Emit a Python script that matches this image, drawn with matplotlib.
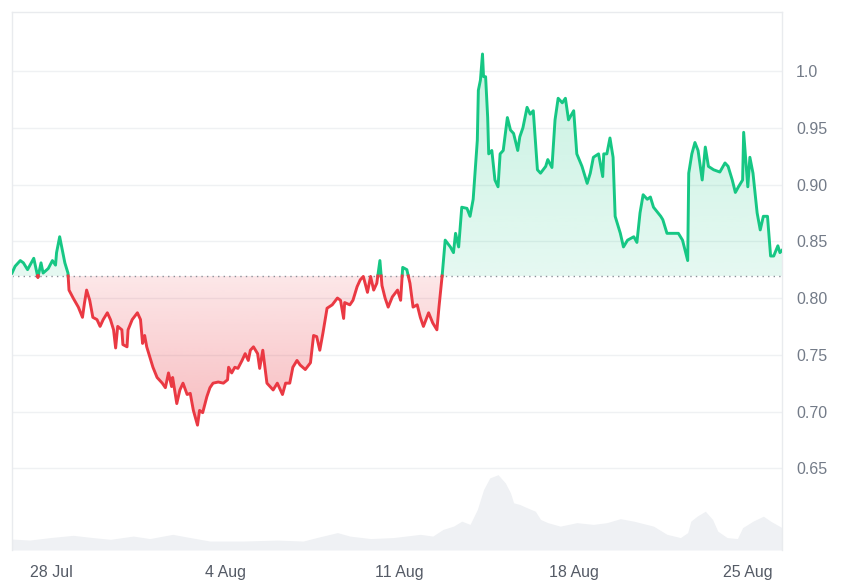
import numpy as np
import matplotlib
matplotlib.use('Agg')
import matplotlib.pyplot as plt
import matplotlib.dates as mdates
from matplotlib.path import Path
from matplotlib.patches import PathPatch
from matplotlib.colors import to_rgb
from datetime import datetime, timedelta

plt.rcParams['font.family'] = ['Liberation Sans', 'DejaVu Sans']

start = datetime(2024, 7, 26, 10)
base_price = 0.8194

# hours since start / price in USD
price_hours = [0, 3, 8, 11, 15, 21, 25, 28, 30, 35, 39, 42, 43, 46, 49, 51, 54, 55, 59, 64,
               68, 70, 72, 75, 78, 82, 85, 88, 92, 95, 98, 100, 102, 106, 107, 111, 112, 116, 121, 124,
               126, 128, 130, 133, 136, 140, 145, 148, 151, 154, 155, 159, 162, 165, 169, 172, 175, 179, 181, 184,
               188, 191, 194, 199, 204, 208, 209, 212, 215, 218, 222, 225, 228, 230, 233, 237, 239, 242, 246, 249,
               252, 256, 261, 264, 268, 271, 275, 278, 283, 288, 291, 294, 297, 300, 304, 309, 314, 317, 320, 321,
               326, 329, 333, 336, 339, 343, 346, 349, 352, 355, 357, 360, 363, 367, 372, 375, 377, 381, 384, 387,
               391, 394, 397, 402, 406, 410, 412, 415, 418, 423, 426, 428, 431, 434, 439, 442, 445, 449, 450, 452,
               454, 455, 457, 459, 460, 463, 466, 469, 471, 474, 478, 481, 484, 488, 490, 493, 497, 500, 503, 507,
               510, 515, 517, 521, 524, 527, 531, 534, 537, 542, 545, 550, 555, 558, 561, 566, 570, 571, 574, 577,
               580, 582, 587, 590, 594, 600, 603, 606, 609, 613, 616, 619, 626, 628, 632, 638, 643, 647, 650, 652,
               653, 656, 659, 662, 666, 669, 672, 677, 683, 688, 691, 695, 698, 701, 705, 706, 708, 710, 712, 715,
               719, 722, 725, 729, 732, 735, 739, 741, 743]
price = [0.822, 0.828, 0.833, 0.831, 0.825, 0.835, 0.818, 0.831, 0.822, 0.826, 0.833, 0.829, 0.840, 0.854, 0.840, 0.831, 0.822, 0.807, 0.800, 0.792,
         0.783, 0.796, 0.807, 0.798, 0.783, 0.781, 0.775, 0.781, 0.787, 0.781, 0.772, 0.756, 0.775, 0.772, 0.759, 0.757, 0.772, 0.781, 0.787, 0.781,
         0.760, 0.767, 0.757, 0.748, 0.739, 0.730, 0.725, 0.721, 0.734, 0.722, 0.730, 0.707, 0.719, 0.725, 0.715, 0.716, 0.701, 0.688, 0.701, 0.699,
         0.713, 0.721, 0.725, 0.726, 0.725, 0.728, 0.739, 0.734, 0.739, 0.738, 0.745, 0.751, 0.745, 0.754, 0.757, 0.751, 0.738, 0.754, 0.725, 0.722,
         0.719, 0.725, 0.715, 0.725, 0.725, 0.739, 0.745, 0.741, 0.737, 0.743, 0.767, 0.766, 0.754, 0.769, 0.791, 0.794, 0.800, 0.798, 0.782, 0.796,
         0.794, 0.798, 0.810, 0.816, 0.819, 0.805, 0.819, 0.807, 0.813, 0.833, 0.811, 0.800, 0.792, 0.801, 0.807, 0.798, 0.827, 0.825, 0.813, 0.792,
         0.794, 0.783, 0.775, 0.787, 0.778, 0.772, 0.792, 0.819, 0.851, 0.845, 0.840, 0.857, 0.845, 0.880, 0.879, 0.872, 0.887, 0.939, 0.983, 0.992,
         1.015, 0.995, 0.995, 0.959, 0.927, 0.930, 0.904, 0.898, 0.927, 0.930, 0.959, 0.948, 0.945, 0.930, 0.942, 0.950, 0.968, 0.962, 0.965, 0.913,
         0.910, 0.916, 0.922, 0.915, 0.957, 0.976, 0.972, 0.976, 0.957, 0.965, 0.927, 0.916, 0.901, 0.910, 0.924, 0.927, 0.907, 0.927, 0.927, 0.941,
         0.924, 0.872, 0.857, 0.845, 0.851, 0.854, 0.849, 0.875, 0.891, 0.887, 0.889, 0.880, 0.872, 0.869, 0.857, 0.857, 0.857, 0.851, 0.840, 0.833,
         0.910, 0.927, 0.937, 0.930, 0.904, 0.933, 0.916, 0.913, 0.911, 0.919, 0.916, 0.904, 0.893, 0.898, 0.904, 0.946, 0.922, 0.898, 0.924, 0.910,
         0.875, 0.860, 0.872, 0.872, 0.837, 0.837, 0.846, 0.840, 0.842]

# hours since start / 24h volume, million USD
vol_hours = [0, 17, 37, 59, 78, 95, 117, 133, 155, 172, 191, 223, 256, 281, 294, 314, 326, 346, 368, 394,
             406, 416, 426, 434, 442, 449, 455, 461, 469, 476, 481, 484, 490, 497, 505, 510, 517, 529, 545, 561,
             574, 587, 600, 619, 632, 645, 652, 655, 661, 669, 676, 681, 690, 700, 705, 715, 725, 732, 743]
volume = [44, 40, 50, 59, 50, 43, 56, 46, 63, 50, 36, 36, 40, 36, 50, 70, 56, 46, 50, 63,
          56, 83, 96, 116, 103, 163, 243, 290, 303, 270, 230, 190, 183, 170, 156, 123, 110, 96, 110, 103,
          110, 126, 116, 96, 63, 50, 70, 116, 136, 156, 123, 76, 50, 46, 90, 116, 136, 116, 90]

tick_days = ['2024-07-28', '2024-08-04', '2024-08-11', '2024-08-18', '2024-08-25']
ytick_vals = [0.65, 0.70, 0.75, 0.80, 0.85, 0.90, 0.95, 1.0]

GREEN = '#16c784'
RED = '#ea3943'

t = mdates.date2num([start + timedelta(hours=h) for h in price_hours])
p = np.array(price)
base = base_price

# add the points where the line crosses the base price so both colours meet
tt, pp = [t[0]], [p[0]]
for i in range(1, len(p)):
    a, b = p[i - 1] - base, p[i] - base
    if a * b < 0:
        f = a / (a - b)
        tt.append(t[i - 1] + f * (t[i] - t[i - 1]))
        pp.append(base)
    tt.append(t[i])
    pp.append(p[i])
tt, pp = np.array(tt), np.array(pp)

fig = plt.figure(figsize=(8.42, 5.84), dpi=100)
ax = fig.add_axes([12 / 842, 34 / 584, 770 / 842, 538 / 584])
vax = ax.twinx()

# volume
vt = mdates.date2num([start + timedelta(hours=h) for h in vol_hours])
vax.fill_between(vt, volume, 0, color='#eff1f4', lw=0)
vax.set_ylim(0, max(volume) / 0.14)
vax.yaxis.set_visible(False)
for s in vax.spines.values():
    s.set_visible(False)
ax.set_zorder(vax.get_zorder() + 1)
ax.patch.set_visible(False)

ymin, ymax = 0.578, 1.052


def grad_fill(where, color, a0, a1, y0, y1):
    poly = ax.fill_between(tt, pp, base, where=where, interpolate=True,
                           facecolor='none', edgecolor='none')
    path = Path.make_compound_path(*poly.get_paths())
    patch = PathPatch(path, transform=ax.transData, facecolor='none', edgecolor='none')
    ax.add_patch(patch)
    rgb = to_rgb(color)
    n = 256
    img = np.zeros((n, 1, 4))
    img[:, 0, :3] = rgb
    img[:, 0, 3] = np.linspace(a0, a1, n)
    im = ax.imshow(img, extent=[tt[0], tt[-1], y0, y1], origin='lower',
                   aspect='auto', zorder=1, interpolation='bilinear')
    im.set_clip_path(patch)


grad_fill(pp >= base, GREEN, 0.11, 0.24, base, pp.max())
grad_fill(pp <= base, RED, 0.34, 0.12, pp.min(), base)

eps = 1e-9
ax.plot(tt, np.where(pp >= base - eps, pp, np.nan), color=GREEN, lw=2.1,
        solid_joinstyle='round', zorder=3)
ax.plot(tt, np.where(pp <= base + eps, pp, np.nan), color=RED, lw=2.1,
        solid_joinstyle='round', zorder=3)
ax.axhline(base, color='#8a9099', lw=1.0, ls=(0, (1, 3)), zorder=2)

ax.set_xlim(tt[0], tt[-1])
vax.set_xlim(tt[0], tt[-1])
ax.set_ylim(ymin, ymax)

ax.yaxis.tick_right()
ax.set_yticks(ytick_vals)
ax.set_yticklabels(['1.0' if abs(v - 1) < 1e-9 else f'{v:.2f}' for v in ytick_vals])
ax.grid(axis='y', color='#eff1f3', lw=1.0)
ax.set_axisbelow(True)
ax.tick_params(axis='y', length=0, pad=10, labelsize=11.5, labelcolor='#737b88')

xt = [datetime.strptime(d, '%Y-%m-%d') for d in tick_days]
ax.set_xticks(mdates.date2num(xt))
ax.set_xticklabels([f'{d.day} {d:%b}' for d in xt])
ax.tick_params(axis='x', length=0, pad=11, labelsize=11.5, labelcolor='#555b66')

for side in ['top', 'left', 'right']:
    ax.spines[side].set_color('#e9ebee')
    ax.spines[side].set_linewidth(1.0)
ax.spines['bottom'].set_visible(False)

fig.savefig('out.png', dpi=100, facecolor='white')
